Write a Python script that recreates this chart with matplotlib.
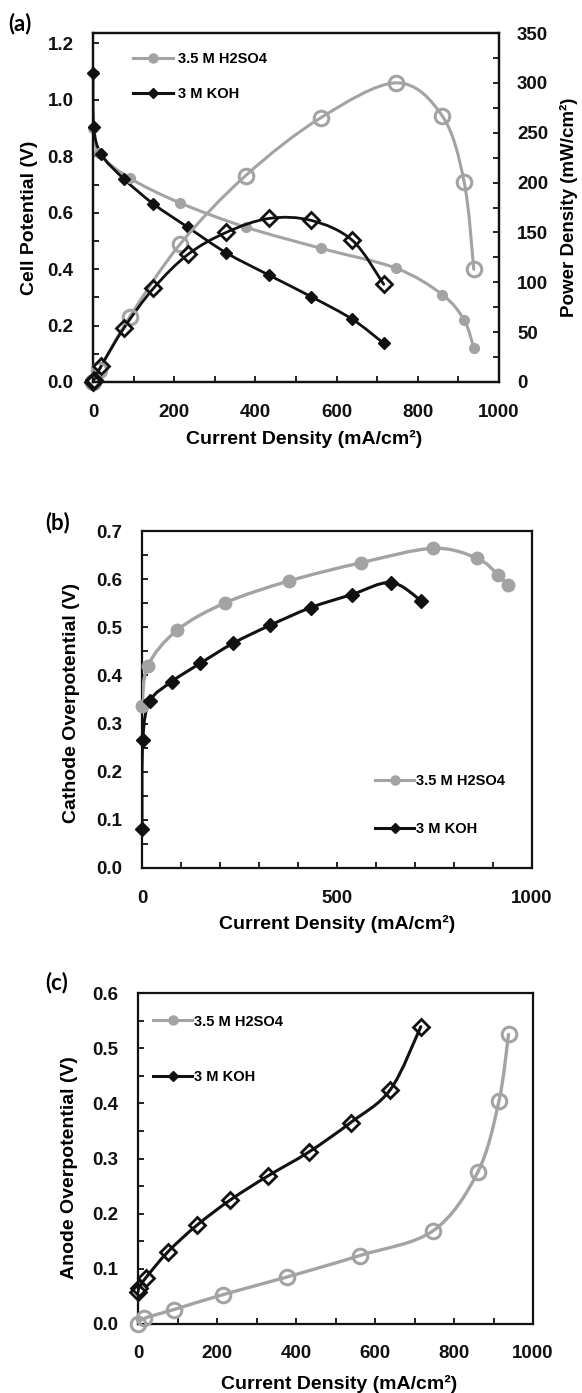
import numpy as np
import matplotlib
matplotlib.use("Agg")
import matplotlib.pyplot as plt
from matplotlib.path import Path
from matplotlib.patches import PathPatch
from matplotlib.lines import Line2D
from matplotlib.ticker import MultipleLocator, FormatStrFormatter

plt.rcParams['font.family'] = ['Liberation Sans', 'DejaVu Sans']
plt.rcParams['font.weight'] = 'bold'

# ---- data ----
# current densities (mA/cm2)
i_h2so4 = [0, 15, 90, 214, 376, 561, 747, 860, 914, 938]
i_koh = [0, 2, 20, 76, 149, 234, 328, 433, 538, 639, 716]

# (a) cell potential (V) and power density (mW/cm2)
v_h2so4 = [0.90, 0.81, 0.723, 0.635, 0.549, 0.474, 0.403, 0.31, 0.22, 0.12]
p_h2so4 = [0, 12, 65, 138, 207, 265, 300, 267, 201, 113]
v_koh = [1.095, 0.904, 0.808, 0.72, 0.631, 0.548, 0.458, 0.379, 0.302, 0.222, 0.137]
p_koh = [0, 2, 16, 54, 94, 128, 150, 164, 162, 142, 98]

# (b) cathode overpotential (V)
cath_h2so4 = [0.337, 0.42, 0.494, 0.551, 0.596, 0.634, 0.664, 0.643, 0.608, 0.587]
cath_koh = [0.082, 0.266, 0.346, 0.387, 0.425, 0.467, 0.504, 0.541, 0.568, 0.593, 0.555]

# (c) anode overpotential (V)
an_h2so4 = [0.0, 0.01, 0.026, 0.053, 0.085, 0.124, 0.169, 0.275, 0.405, 0.525]
an_koh = [0.058, 0.065, 0.084, 0.131, 0.179, 0.225, 0.268, 0.312, 0.365, 0.425, 0.539]

label_h2so4 = "3.5 M H2SO4"
label_koh = "3 M KOH"

GREY = '#a3a3a3'
BLACK = '#111111'
TICK_FS = 13.5
LABEL_FS = 14
LEG_FS = 10.5


def smooth_path(x, y):
    """Catmull-Rom style smoothed path through the points (cubic Beziers)."""
    pts = np.column_stack([np.asarray(x, float), np.asarray(y, float)])
    n = len(pts)
    verts = [pts[0]]
    codes = [Path.MOVETO]
    for k in range(n - 1):
        p0 = pts[k - 1] if k > 0 else pts[k]
        p1 = pts[k]
        p2 = pts[k + 1]
        p3 = pts[k + 2] if k + 2 < n else pts[k + 1]
        verts += [p1 + (p2 - p0) / 6.0, p2 - (p3 - p1) / 6.0, p2]
        codes += [Path.CURVE4] * 3
    return Path(verts, codes)


def series(ax, x, y, color, lw, marker, ms, mfc, mew):
    ax.add_patch(PathPatch(smooth_path(x, y), facecolor='none', edgecolor=color,
                           lw=lw, zorder=3, capstyle='round', joinstyle='round'))
    ax.plot(x, y, linestyle='none', marker=marker, ms=ms, mfc=mfc, mec=color,
            mew=mew, zorder=4, clip_on=False)


def style_axes(ax, ypad=14, xpad=16):
    for s in ax.spines.values():
        s.set_linewidth(1.6)
        s.set_color(BLACK)
    ax.tick_params(which='both', direction='in', width=1.3, colors=BLACK,
                   labelsize=TICK_FS, length=4)
    ax.tick_params(axis='y', pad=ypad)
    ax.tick_params(axis='x', pad=xpad)
    ax.tick_params(which='both', right=False, top=False)


def legend_handles(msize):
    return [Line2D([], [], color=GREY, lw=2.2, marker='o', ms=msize, mfc=GREY, mec=GREY),
            Line2D([], [], color=BLACK, lw=2.2, marker='D', ms=msize * 0.8, mfc=BLACK, mec=BLACK)]


W, H = 582, 1393
fig = plt.figure(figsize=(W / 100, H / 100), dpi=100)


def axes_px(l, r, t, b):
    return fig.add_axes([l / W, 1 - b / H, (r - l) / W, (b - t) / H])


# ---------------- (a) ----------------
axa = axes_px(93, 499, 33, 382)
axa2 = axa.twinx()
axa.set_xlim(0, 1000)
axa.set_ylim(0, 1.237)
axa2.set_ylim(0, 350)
series(axa, i_h2so4, v_h2so4, GREY, 2.2, 'o', 7, GREY, 1)
series(axa, i_koh, v_koh, BLACK, 2.0, 'D', 6, BLACK, 1)
series(axa2, i_h2so4, p_h2so4, GREY, 2.2, 'o', 10.5, 'none', 2.2)
series(axa2, i_koh, p_koh, BLACK, 2.0, 'D', 8, 'none', 2.0)
style_axes(axa)
style_axes(axa2, ypad=13)
axa2.tick_params(which='both', right=True, left=False, labelright=True, labelleft=False)
axa.xaxis.set_major_locator(MultipleLocator(200))
axa.xaxis.set_minor_locator(MultipleLocator(100))
axa.yaxis.set_major_locator(MultipleLocator(0.2))
axa.yaxis.set_minor_locator(MultipleLocator(0.1))
axa.yaxis.set_major_formatter(FormatStrFormatter('%.1f'))
axa2.yaxis.set_major_locator(MultipleLocator(50))
axa2.yaxis.set_minor_locator(MultipleLocator(25))
axa.set_ylabel("Cell Potential (V)", fontsize=LABEL_FS, fontweight='bold')
axa.yaxis.set_label_coords(-0.135, 0.47)
axa2.set_ylabel("Power Density (mW/cm²)", fontsize=13.5, fontweight='bold')
axa2.yaxis.set_label_coords(1.15, 0.5)
axa.set_xlabel("Current Density (mA/cm²)", fontsize=LABEL_FS, fontweight='bold')
axa.xaxis.set_label_coords(0.52, -0.138)
axa.legend(legend_handles(6.5), [label_h2so4, label_koh], loc='upper left',
           bbox_to_anchor=(0.099, 0.945), frameon=False, fontsize=LEG_FS,
           handlelength=2.75, handletextpad=0.3, labelspacing=1.4,
           borderpad=0, borderaxespad=0)

# ---------------- (b) ----------------
axb = axes_px(142, 532, 531, 868)
axb.set_xlim(0, 1000)
axb.set_ylim(0, 0.7)
series(axb, i_h2so4, cath_h2so4, GREY, 2.4, 'o', 9, GREY, 1)
series(axb, i_koh, cath_koh, BLACK, 2.2, 'D', 7.5, BLACK, 1)
style_axes(axb)
axb.xaxis.set_major_locator(MultipleLocator(500))
axb.xaxis.set_minor_locator(MultipleLocator(100))
axb.yaxis.set_major_locator(MultipleLocator(0.1))
axb.yaxis.set_minor_locator(MultipleLocator(0.05))
axb.yaxis.set_major_formatter(FormatStrFormatter('%.1f'))
axb.set_ylabel("Cathode Overpotential (V)", fontsize=LABEL_FS, fontweight='bold')
axb.yaxis.set_label_coords(-0.158, 0.49)
axb.set_xlabel("Current Density (mA/cm²)", fontsize=LABEL_FS, fontweight='bold')
axb.xaxis.set_label_coords(0.5, -0.14)
axb.legend(legend_handles(6.5), [label_h2so4, label_koh], loc='upper left',
           bbox_to_anchor=(0.597, 0.278), frameon=False, fontsize=LEG_FS,
           handlelength=2.7, handletextpad=0.15, labelspacing=2.3,
           borderpad=0, borderaxespad=0)

# ---------------- (c) ----------------
axc = axes_px(138, 533, 993, 1324)
axc.set_xlim(0, 1000)
axc.set_ylim(0, 0.6)
series(axc, i_h2so4, an_h2so4, GREY, 2.4, 'o', 10.5, 'none', 2.2)
series(axc, i_koh, an_koh, BLACK, 2.2, 'D', 8, 'none', 2.0)
style_axes(axc, xpad=15)
axc.xaxis.set_major_locator(MultipleLocator(200))
axc.xaxis.set_minor_locator(MultipleLocator(100))
axc.yaxis.set_major_locator(MultipleLocator(0.1))
axc.yaxis.set_minor_locator(MultipleLocator(0.05))
axc.yaxis.set_major_formatter(FormatStrFormatter('%.1f'))
axc.set_ylabel("Anode Overpotential (V)", fontsize=LABEL_FS, fontweight='bold')
axc.yaxis.set_label_coords(-0.152, 0.474)
axc.set_xlabel("Current Density (mA/cm²)", fontsize=LABEL_FS, fontweight='bold')
axc.xaxis.set_label_coords(0.51, -0.155)
axc.legend(legend_handles(6.5), [label_h2so4, label_koh], loc='upper left',
           bbox_to_anchor=(0.0375, 0.935), frameon=False, fontsize=LEG_FS,
           handlelength=2.7, handletextpad=0.15, labelspacing=2.85,
           borderpad=0, borderaxespad=0)

# panel letters
for txt, xp, yp in [("(a)", 8, 24), ("(b)", 45, 523), ("(c)", 45, 983)]:
    fig.text(xp / W, 1 - yp / H, txt, fontsize=16, fontweight='bold',
             family=['Lato', 'DejaVu Sans'], ha='left', va='center')

fig.savefig("out.png", dpi=100)
